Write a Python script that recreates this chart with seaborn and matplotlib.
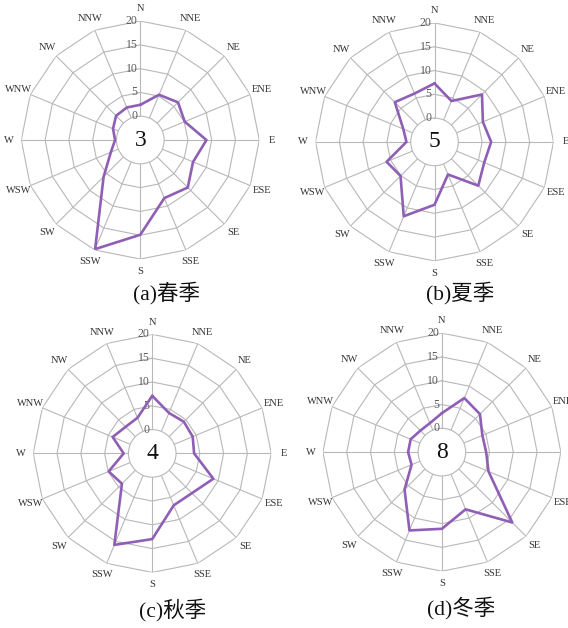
import numpy as np
import pandas as pd
import matplotlib
matplotlib.use("Agg")
import matplotlib.pyplot as plt
import seaborn as sns

# Wind direction frequency (%) by season, 16 compass points clockwise from N
directions = ["N", "NNE", "NE", "ENE", "E", "ESE", "SE", "SSE",
              "S", "SSW", "SW", "WSW", "W", "WNW", "NW", "NNW"]
spring = [2.4, 5.3, 6.2, 5.1, 8.9, 7.0, 9.1, 8.2, 14.9, 19.8, 5.9, 1.7, 0.3, 1.2, 2.2, 2.4]
summer = [7.3, 4.3, 9.1, 6.0, 6.9, 6.3, 8.0, 2.4, 8.2, 11.9, 5.1, 5.9, 0.9, 2.1, 6.8, 6.0]
autumn = [7.1, 4.2, 4.4, 4.2, 3.8, 8.9, 6.8, 6.8, 13.0, 15.8, 4.0, 4.9, 1.0, 4.0, 2.9, 3.1]
winter = [3.2, 7.3, 6.3, 4.2, 4.3, 5.6, 15.9, 8.0, 11.1, 12.8, 6.1, 1.9, 2.1, 2.1, 1.4, 1.6]
calm = [3, 5, 4, 8]
titles = ["(a)春季", "(b)夏季", "(c)秋季", "(d)冬季"]
ring_levels = [0, 5, 10, 15, 20]

sns.set_theme(style="white")
plt.rcParams["font.family"] = ["Liberation Serif", "Noto Sans CJK SC", "DejaVu Sans"]

LINE = "#8f5fb5"
GRID = "#b8b8b8"

fig = plt.figure(figsize=(5.68, 6.28), dpi=100)

# axes centres (figure fraction) and title anchor positions
centres = [(0.247, 0.777), (0.765, 0.774), (0.268, 0.278), (0.778, 0.280)]
title_pos = [(0.294, 0.533), (0.810, 0.533), (0.304, 0.029), (0.812, 0.032)]
R_PX = 119
w = 2 * R_PX / 568
h = 2 * R_PX / 628

n = len(directions)
theta = np.arange(n) * 2 * np.pi / n
theta_closed = np.append(theta, theta[0])

for k, series in enumerate([spring, summer, autumn, winter]):
    cx, cy = centres[k]
    ax = fig.add_axes([cx - w / 2, cy - h / 2, w, h], projection="polar")
    ax.set_theta_zero_location("N")
    ax.set_theta_direction(-1)
    ax.set_ylim(0, 20)
    ax.set_rorigin(-5)
    ax.grid(False)
    ax.set_xticks([])
    ax.set_yticks([])
    for name, sp in ax.spines.items():
        if name == "inner":
            # calm-wind circle
            sp.set_edgecolor(GRID)
            sp.set_linewidth(0.8)
        else:
            sp.set_visible(False)
    ax.patch.set_alpha(0)

    # polygonal rings and spokes
    for lv in ring_levels[1:]:
        ax.plot(theta_closed, [lv] * (n + 1), color=GRID, lw=0.8, zorder=1)
    for t in theta:
        ax.plot([t, t], [0, 20], color=GRID, lw=0.8, zorder=1)

    # radial scale labels along the N spoke
    for lv in ring_levels:
        ax.annotate(str(lv), xy=(0, lv), xytext=(-2, 0), textcoords="offset points",
                    ha="right", va="center", fontsize=8.5, color="#5a5a5a", zorder=3)

    # compass labels
    for t, d in zip(theta, directions):
        ax.text(t, 22.6, d, ha="center", va="center", fontsize=7.5,
                color="#333333")

    df = pd.DataFrame({"theta": theta_closed,
                       "freq": list(series) + [series[0]]})
    sns.lineplot(data=df, x="theta", y="freq", sort=False, estimator=None,
                 color=LINE, lw=1.9, ax=ax, zorder=4)
    ax.set_xlabel("")
    ax.set_ylabel("")

    ax.text(0.5, 0.5, str(calm[k]), transform=ax.transAxes, ha="center",
            va="center", fontsize=17, color="#111111")

    tx, ty = title_pos[k]
    fig.text(tx, ty, titles[k], ha="center", va="center", fontsize=15.5, color="#111111")

fig.savefig("out.png", dpi=100)
